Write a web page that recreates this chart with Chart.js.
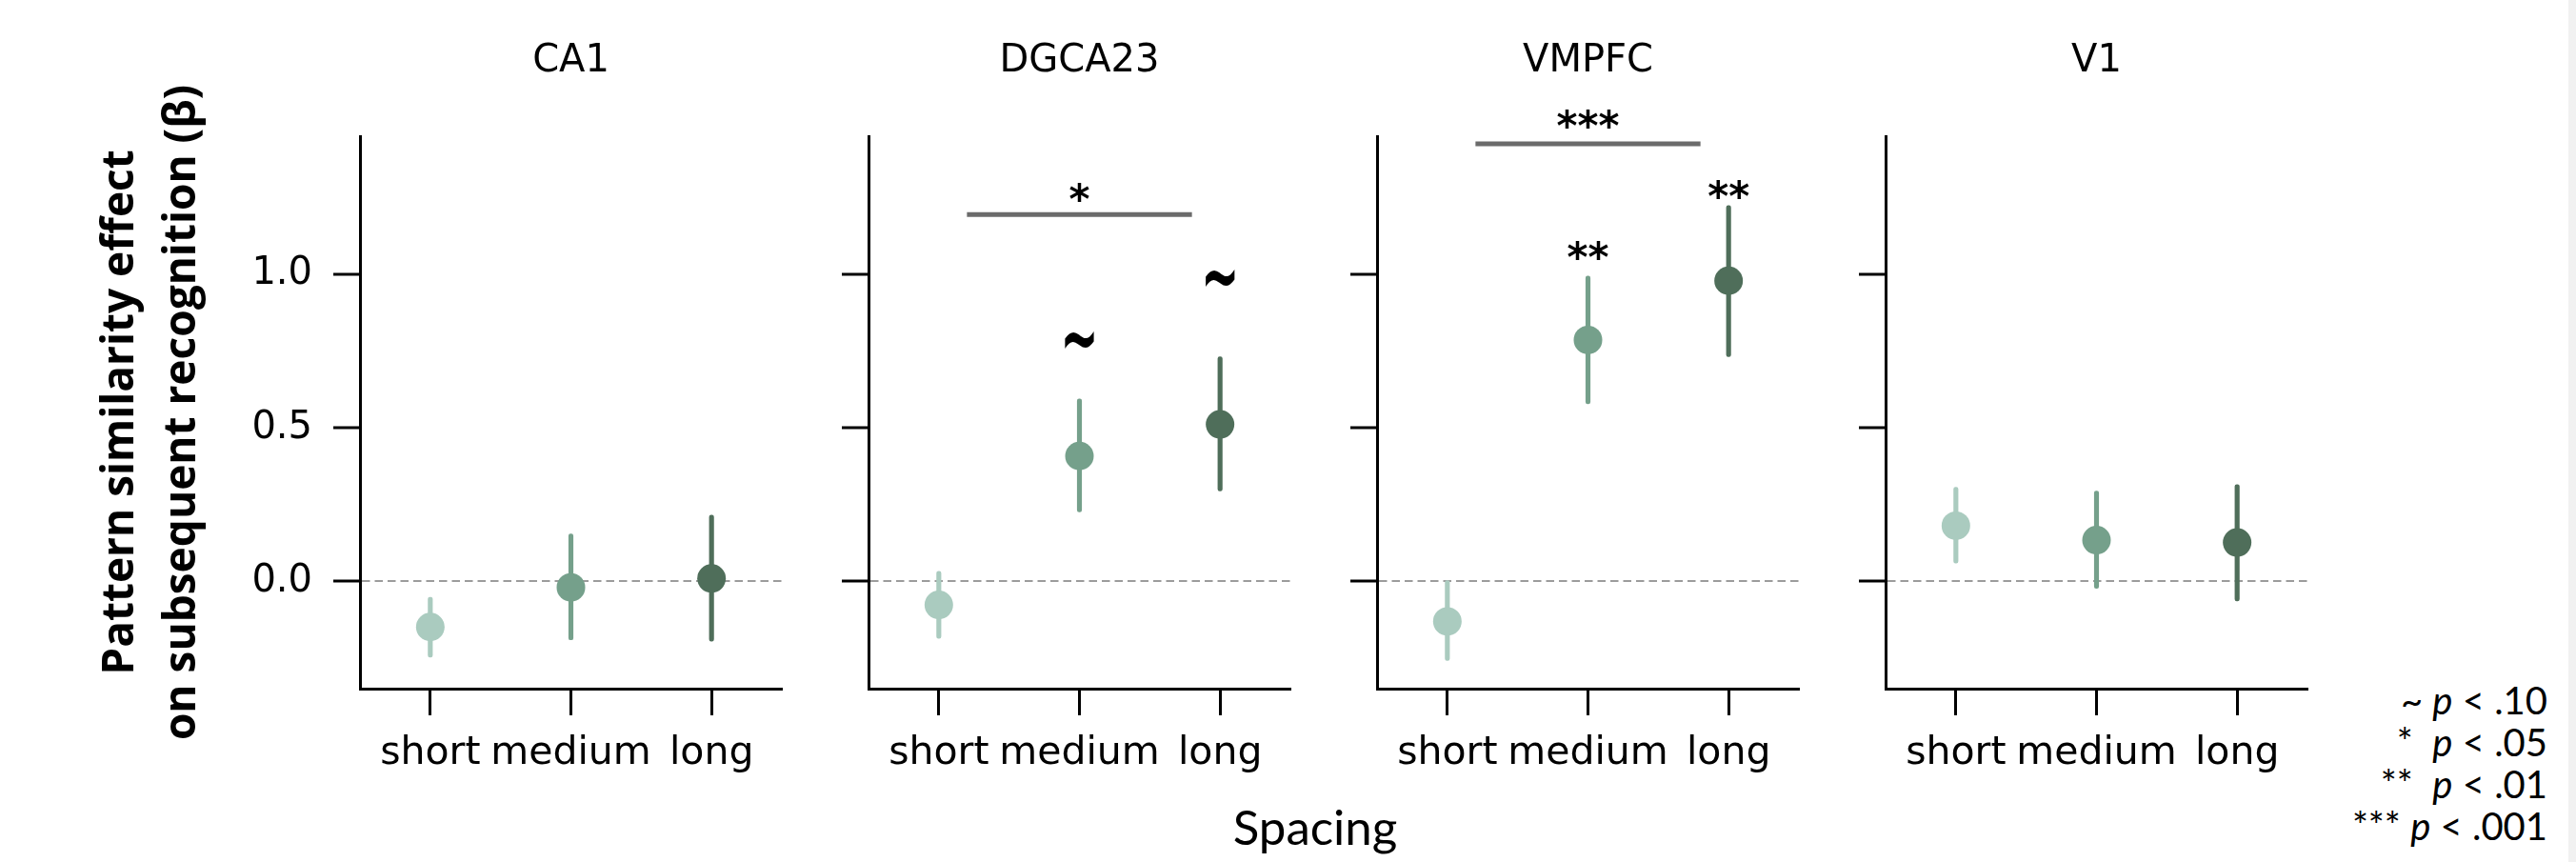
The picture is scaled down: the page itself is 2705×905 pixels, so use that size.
<!DOCTYPE html>
<html>
<head>
<meta charset="utf-8">
<script src="https://cdn.jsdelivr.net/npm/chart.js@4.4.0/dist/chart.umd.min.js"></script>
<style>
  body { margin: 0; background: #fff; }
  #page { position: relative; width: 2705px; height: 905px; overflow: hidden; background: #fff; }
  canvas.panel { position: absolute; top: 0; }
  #xlabel { position: absolute; left: 1181px; top: 842px; width: 400px; text-align: center;
            font-family: Lato, sans-serif; font-size: 51px; line-height: 51px; color: #000; }
  #sig { position: absolute; right: 30px; top: 713px; text-align: right; white-space: pre;
         font-family: Lato, sans-serif; font-size: 40px; line-height: 44px; color: #000; }
  #sig div { height: 44px; }
  #strip { position: absolute; left: 2697px; top: 0; width: 8px; height: 905px; background: #f1f1f1; }
</style>
</head>
<body>
<div id="page">
  <canvas id="p0" class="panel"></canvas>
  <canvas id="p1" class="panel"></canvas>
  <canvas id="p2" class="panel"></canvas>
  <canvas id="p3" class="panel"></canvas>
  <div id="xlabel">Spacing</div>
  <div id="sig"><div>~ <i>p</i> &lt; .10</div><div>*  <i>p</i> &lt; .05</div><div>**  <i>p</i> &lt; .01</div><div>*** <i>p</i> &lt; .001</div></div>
  <div id="strip"></div>
</div>
<script>
// categories and panels
const categories = ['short', 'medium', 'long'];
const regions = ['CA1', 'DGCA23', 'VMPFC', 'V1'];
const yTickValues = [0, 0.5, 1.0];

// beta estimates and error bar ends, per region
const ca1Mean = [-0.149, -0.020, 0.009];
const ca1Low = [-0.247, -0.191, -0.195];
const ca1High = [-0.052, 0.154, 0.215];

const dgMean = [-0.077, 0.408, 0.511];
const dgLow = [-0.186, 0.226, 0.294];
const dgHigh = [0.032, 0.594, 0.731];

const vmMean = [-0.131, 0.786, 0.979];
const vmLow = [-0.258, 0.578, 0.732];
const vmHigh = [0.002, 0.994, 1.224];

const v1Mean = [0.181, 0.134, 0.126];
const v1Low = [0.059, -0.023, -0.064];
const v1High = [0.306, 0.294, 0.315];

// significance marks above each condition
const dgMarks = ['', '~', '~'];
const dgMarkY = [null, 0.79, 0.99];
const vmMarks = ['', '**', '**'];
const vmMarkY = [null, 1.08, 1.28];

// comparison brackets: [from, to, height], label, label height
const dgBracket = [0.2, 1.8, 1.195];
const dgBracketText = '*';
const dgBracketTextY = 1.27;
const vmBracket = [0.2, 1.8, 1.425];
const vmBracketText = '***';
const vmBracketTextY = 1.51;

const colors = ['#aacbbf', '#75a08b', '#4f6e5a'];

// layout
const plotLeft = 378, panelStep = 534, plotW = 446, rightPad = 12;
const canvasH = 905, xAxisH = 182;

function drawMark(ctx, text, px, py) {
    // py is the visual centre of the glyphs
    if (text === '~') {
        ctx.save();
        ctx.translate(px, py);
        ctx.scale(1.05, 1.9);
        ctx.font = 'bold 46px "DejaVu Sans"';
        ctx.fillText(text, 0, 0.33 * 46);
        ctx.restore();
    } else {
        ctx.font = 'bold 42px "DejaVu Sans"';
        ctx.fillText(text, px, py + 0.55 * 42);
    }
}

const sigMarks = {
    id: 'sigMarks',
    afterDatasetsDraw(chart, args, opts) {
        const ctx = chart.ctx;
        const x = chart.scales.x, y = chart.scales.y;
        ctx.save();
        ctx.textAlign = 'center';
        ctx.textBaseline = 'alphabetic';
        ctx.fillStyle = '#000';
        (opts.marks || []).forEach(function (m, k) {
            if (m) drawMark(ctx, m, x.getPixelForValue(k), y.getPixelForValue(opts.markY[k]));
        });
        if (opts.bracket) {
            var b = opts.bracket;
            var py = y.getPixelForValue(b[2]);
            ctx.strokeStyle = '#6b6b6b';
            ctx.lineWidth = 5;
            ctx.beginPath();
            ctx.moveTo(x.getPixelForValue(b[0]), py);
            ctx.lineTo(x.getPixelForValue(b[1]), py);
            ctx.stroke();
            drawMark(ctx, opts.bracketText, x.getPixelForValue((b[0] + b[1]) / 2), y.getPixelForValue(opts.bracketTextY));
        }
        ctx.restore();
    }
};

function makePanel(i, mean, low, high, extra) {
    var yW = i === 0 ? plotLeft : 60;
    var canvas = document.getElementById('p' + i);
    var w = yW + plotW + rightPad;
    canvas.width = w;
    canvas.height = canvasH;
    canvas.style.left = (plotLeft + panelStep * i - yW) + 'px';
    canvas.style.width = w + 'px';
    canvas.style.height = canvasH + 'px';

    new Chart(canvas, {
        type: 'bar',
        data: {
            labels: categories,
            datasets: [
                {
                    type: 'line',
                    data: mean,
                    showLine: false,
                    pointRadius: 15,
                    pointHoverRadius: 15,
                    pointBackgroundColor: colors,
                    pointBorderWidth: 0,
                    order: 0
                },
                {
                    type: 'bar',
                    data: low.map((v, k) => [v, high[k]]),
                    backgroundColor: colors,
                    barThickness: 4.5,
                    borderRadius: 2.2,
                    borderSkipped: false,
                    order: 1
                }
            ]
        },
        options: {
            responsive: false,
            animation: false,
            events: [],
            layout: { padding: { left: 0, right: rightPad, top: 0, bottom: 0 } },
            plugins: {
                legend: { display: false },
                tooltip: { enabled: false },
                title: {
                    display: true,
                    fullSize: false,   // centre over the plot, not the canvas
                    text: regions[i],
                    color: '#000',
                    font: { family: 'DejaVu Sans', size: 40, weight: 'normal', lineHeight: 1.2 },
                    padding: { top: 41, bottom: 54 }
                },
                sigMarks: extra || {}
            },
            scales: {
                x: {
                    offset: true,
                    grid: { display: true, drawOnChartArea: false, offset: false, tickLength: 28, tickWidth: 3, tickColor: '#000' },
                    border: { color: '#000', width: 3 },
                    ticks: { color: '#000', font: { family: 'DejaVu Sans', size: 41 }, padding: 16, maxRotation: 0, autoSkip: false },
                    afterFit: function (s) { s.height = xAxisH; }
                },
                y: {
                    min: -0.35,
                    max: 1.45,
                    afterBuildTicks: function (s) { s.ticks = yTickValues.map(v => ({ value: v })); },
                    grid: {
                        drawOnChartArea: true,
                        color: '#9c9c9c',
                        lineWidth: c => (c.tick && c.tick.value === 0 ? 2 : 0),
                        tickLength: 28,
                        tickWidth: 3,
                        tickColor: '#000'
                    },
                    border: { color: '#000', width: 3, dash: [8.5, 5] },
                    ticks: {
                        display: i === 0,
                        color: '#000',
                        font: { family: 'DejaVu Sans', size: 40 },
                        padding: 22,
                        callback: v => v.toFixed(1)
                    },
                    title: {
                        display: i === 0,
                        text: ['Pattern similarity effect', 'on subsequent recognition (β)'],
                        color: '#000',
                        font: { family: 'Open Sans', size: 46, weight: 'bold', lineHeight: 1.42 },
                        padding: { top: 94, bottom: 0 }
                    },
                    afterFit: function (s) { s.width = yW; }
                }
            }
        },
        plugins: [sigMarks]
    });
}

makePanel(0, ca1Mean, ca1Low, ca1High);
makePanel(1, dgMean, dgLow, dgHigh, {
    marks: dgMarks, markY: dgMarkY,
    bracket: dgBracket, bracketText: dgBracketText, bracketTextY: dgBracketTextY
});
makePanel(2, vmMean, vmLow, vmHigh, {
    marks: vmMarks, markY: vmMarkY,
    bracket: vmBracket, bracketText: vmBracketText, bracketTextY: vmBracketTextY
});
makePanel(3, v1Mean, v1Low, v1High);
</script>
</body>
</html>
